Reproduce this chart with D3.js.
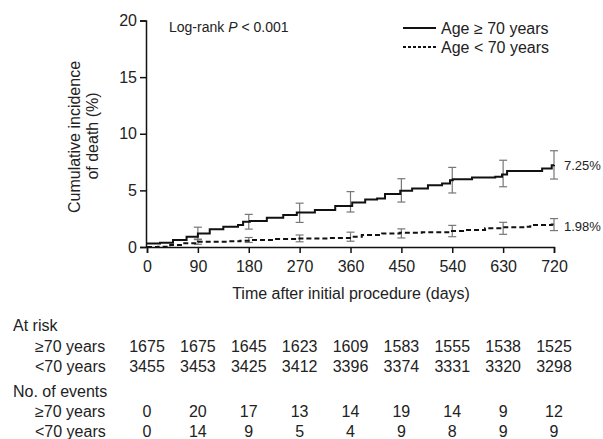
<!DOCTYPE html>
<html>
<head>
<meta charset="utf-8">
<script src="https://cdn.jsdelivr.net/npm/d3@7"></script>
<style>
  body { margin: 0; background: #fff; }
  svg { display: block; font-family: "Liberation Sans", Arial, sans-serif; }
</style>
</head>
<body>
<div id="chart"></div>
<script>
// Cumulative incidence of death by age group
const width = 603, height = 439;
const margin = {top: 20.5, right: 49, bottom: 192, left: 147};
const fontSize = 16;

// step curve points: day, cumulative incidence (%)
const oldDays = [0, 5, 23, 46, 70, 90, 111, 135, 161, 170, 182, 212, 241, 265, 297, 333, 363, 386, 407, 421, 448, 469, 497, 522, 536, 541, 575, 616, 628, 637, 681, 699, 716, 720];
const oldVals = [0.3, 0.3, 0.38, 0.62, 0.91, 1.2, 1.56, 1.79, 1.94, 2.23, 2.29, 2.58, 2.82, 3.04, 3.26, 3.61, 3.94, 4.2, 4.29, 4.67, 4.96, 5.17, 5.46, 5.61, 5.9, 5.99, 6.14, 6.2, 6.4, 6.7, 6.72, 6.93, 7.22, 7.25];
const youngDays = [0, 20, 41, 64, 90, 141, 165, 182, 223, 265, 320, 359, 380, 416, 447, 486, 536, 562, 598, 630, 669, 678, 716, 720];
const youngVals = [0, 0.03, 0.18, 0.33, 0.47, 0.5, 0.56, 0.62, 0.7, 0.76, 0.8, 0.91, 1.06, 1.2, 1.25, 1.3, 1.41, 1.5, 1.65, 1.74, 1.79, 1.94, 1.98, 1.98];

// error bars at each 90-day mark
const barDays = [90, 180, 270, 360, 450, 540, 630, 720];
const oldLow  = [0.65, 1.58, 2.17, 3.09, 3.97, 4.77, 5.32, 6.0];
const oldHigh = [1.75, 2.88, 3.87, 4.89, 6.03, 7.03, 7.66, 8.5];
const youngLow  = [0.24, 0.4, 0.46, 0.51, 0.8, 0.91, 1.12, 1.45];
const youngHigh = [0.7, 0.84, 1.06, 1.31, 1.6, 1.91, 2.18, 2.51];

// risk table
const tableDays = [0, 90, 180, 270, 360, 450, 540, 630, 720];
const riskOld   = [1675, 1675, 1645, 1623, 1609, 1583, 1555, 1538, 1525];
const riskYoung = [3455, 3453, 3425, 3412, 3396, 3374, 3331, 3320, 3298];
const eventsOld   = [0, 20, 17, 13, 14, 19, 14, 9, 12];
const eventsYoung = [0, 14, 9, 5, 4, 9, 8, 9, 9];

const yTicks = [0, 5, 10, 15, 20];
const xTicks = [0, 90, 180, 270, 360, 450, 540, 630, 720];

const svg = d3.select("#chart").append("svg")
  .attr("width", width).attr("height", height);

const x = d3.scaleLinear().domain([0, 720]).range([margin.left, width - margin.right]);
const y = d3.scaleLinear().domain([0, 20]).range([height - margin.bottom, margin.top]);

// axes
const yAxis = svg.append("g").attr("transform", `translate(${margin.left - 1},0)`)
  .call(d3.axisLeft(y).tickValues(yTicks).tickSize(6).tickPadding(3));
const xAxis = svg.append("g").attr("transform", `translate(0,${height - margin.bottom})`)
  .call(d3.axisBottom(x).tickValues(xTicks).tickSize(6).tickPadding(8));
[xAxis, yAxis].forEach(a => {
  a.selectAll("path, line").attr("stroke", "#111").attr("stroke-width", 1.5);
  a.selectAll("text").attr("font-size", fontSize).attr("fill", "#222")
    .attr("font-family", "Liberation Sans, Arial, sans-serif");
});

// axis titles
const yTitle = svg.append("text").attr("transform", "rotate(-90)")
  .attr("text-anchor", "middle").attr("font-size", fontSize).attr("fill", "#222");
yTitle.append("tspan").attr("x", -137).attr("y", 80).text("Cumulative incidence");
yTitle.append("tspan").attr("x", -136).attr("y", 98).text("of death (%)");

svg.append("text").attr("x", 351).attr("y", 299).attr("text-anchor", "middle")
  .attr("font-size", fontSize).attr("fill", "#222").text("Time after initial procedure (days)");

// error bars
function drawBars(lo, hi) {
  const g = svg.append("g").attr("stroke", "#777").attr("stroke-width", 1.2);
  barDays.forEach((d, i) => {
    const cx = x(d);
    g.append("line").attr("x1", cx).attr("x2", cx).attr("y1", y(lo[i])).attr("y2", y(hi[i]));
    g.append("line").attr("x1", cx - 4).attr("x2", cx + 4).attr("y1", y(lo[i])).attr("y2", y(lo[i]));
    g.append("line").attr("x1", cx - 4).attr("x2", cx + 4).attr("y1", y(hi[i])).attr("y2", y(hi[i]));
  });
}
drawBars(oldLow, oldHigh);
drawBars(youngLow, youngHigh);

// curves
const step = d3.line().curve(d3.curveStepAfter).x(d => x(d[0])).y(d => y(d[1]));
svg.append("path").datum(d3.zip(oldDays, oldVals))
  .attr("fill", "none").attr("stroke", "#111").attr("stroke-width", 2).attr("d", step);
svg.append("path").datum(d3.zip(youngDays, youngVals))
  .attr("fill", "none").attr("stroke", "#111").attr("stroke-width", 2)
  .attr("stroke-dasharray", "5,3").attr("d", step);

// end labels
svg.append("text").attr("x", 564).attr("y", 170).attr("font-size", 13).attr("fill", "#222").text("7.25%");
svg.append("text").attr("x", 564).attr("y", 231).attr("font-size", 13).attr("fill", "#222").text("1.98%");

// log-rank note
const note = svg.append("text").attr("x", 169).attr("y", 32).attr("font-size", 14).attr("fill", "#222");
note.append("tspan").text("Log-rank ");
note.append("tspan").attr("font-style", "italic").text("P");
note.append("tspan").text(" < 0.001");

// legend
const legend = svg.append("g");
legend.append("line").attr("x1", 403).attr("x2", 436).attr("y1", 28).attr("y2", 28)
  .attr("stroke", "#111").attr("stroke-width", 2);
legend.append("line").attr("x1", 403).attr("x2", 436).attr("y1", 47).attr("y2", 47)
  .attr("stroke", "#111").attr("stroke-width", 2).attr("stroke-dasharray", "3,2");
legend.append("text").attr("x", 441).attr("y", 34).attr("font-size", fontSize).attr("fill", "#222").text("Age \u2265 70 years");
legend.append("text").attr("x", 441).attr("y", 53).attr("font-size", fontSize).attr("fill", "#222").text("Age < 70 years");

// risk table
const rows = [
  {label: "At risk", indent: 13, y: 331},
  {label: "\u226570 years", indent: 35, y: 352, values: riskOld},
  {label: "<70 years", indent: 35, y: 372, values: riskYoung},
  {label: "No. of events", indent: 13, y: 397},
  {label: "\u226570 years", indent: 35, y: 417, values: eventsOld},
  {label: "<70 years", indent: 35, y: 437, values: eventsYoung}
];
const table = svg.append("g").attr("font-size", fontSize).attr("fill", "#222");
rows.forEach(r => {
  table.append("text").attr("x", r.indent).attr("y", r.y).text(r.label);
  if (r.values) {
    table.selectAll(null).data(r.values).join("text")
      .attr("x", (d, i) => x(tableDays[i])).attr("y", r.y)
      .attr("text-anchor", "middle").text(d => d);
  }
});
</script>
</body>
</html>
